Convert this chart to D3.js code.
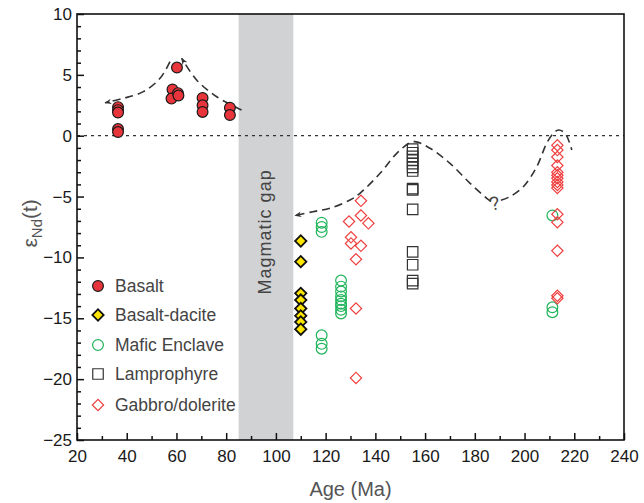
<!DOCTYPE html>
<html>
<head>
<meta charset="utf-8">
<script src="https://cdn.jsdelivr.net/npm/d3@7/dist/d3.min.js"></script>
<style>
  body { margin: 0; background: #fff; }
  svg text { font-family: 'Liberation Sans', Arial, sans-serif; }
</style>
</head>
<body>
<div id="chart"></div>
<script>
// epsilon Nd(t) vs age

var basaltAge = [36.5, 36.5, 36.5, 36.5, 36.5, 60.2, 58.4, 58.0, 60.6, 60.8, 70.5, 70.5, 70.5, 81.5, 81.5]
var basaltEnd = [2.35, 2.1, 1.9, 0.55, 0.3, 5.6, 3.8, 3.05, 3.5, 3.3, 3.1, 2.5, 1.95, 2.3, 1.7]

var dacAge = [110, 110, 110, 110, 110, 110, 110, 110]
var dacEnd = [-8.65, -10.35, -12.95, -13.5, -14.2, -14.8, -15.3, -15.9]

var enclaveAge = [118.4, 118.4, 118.4, 118.4, 118.4, 118.4,
  126.2, 126.2, 126.2, 126.2, 126.2, 126.2, 126.2, 126.2, 126.2,
  211.2, 211.2, 211.2]
var enclaveEnd = [-7.15, -7.5, -7.9, -16.4, -17.1, -17.5,
  -11.9, -12.4, -12.8, -13.2, -13.5, -13.8, -14.0, -14.3, -14.6,
  -6.55, -14.1, -14.5]

var lampAge = [155, 155, 155, 155, 155, 155, 155, 155, 155, 155, 155, 155, 155, 155]
var lampEnd = [-1.1, -1.4, -1.7, -2.0, -2.3, -2.6, -2.9, -4.35, -4.45, -6.05, -9.55, -10.6, -11.9, -12.15]

var gabbroAge = [134.2, 134.2, 137.2, 129.4, 130.2, 130.2, 134.2, 132.2, 132.2, 132.2,
  213.2, 213.2, 213.2, 213.2, 213.2, 213.2, 213.2, 213.2, 213.2, 213.2, 213.2, 213.2, 213.2, 213.2, 213.2]
var gabbroEnd = [-5.35, -6.55, -7.2, -7.05, -8.35, -8.85, -9.05, -10.15, -14.2, -19.9,
  -0.78, -1.18, -1.75, -2.45, -3.0, -3.25, -3.5, -3.8, -4.05, -4.3, -6.45, -7.1, -9.45, -13.15, -13.35]

// dashed trend curves
var trendUpLeftAge = [57.4, 53.4, 46.7, 38.6, 31.3]
var trendUpLeftEnd = [6.08, 4.72, 3.62, 3.07, 2.71]
var trendUpRightAge = [86.2, 76.2, 68.1, 62.1]
var trendUpRightEnd = [2.11, 3.2, 4.58, 6.36]
var trendLowAAge = [186.5, 184.8, 178.1, 170, 162, 155.3, 148.6, 141.9, 133.8, 129.8, 121.8, 114.9, 107.7]
var trendLowAEnd = [-5.4, -5.14, -3.91, -2.27, -1.03, -0.49, -1.45, -3.09, -4.73, -5.28, -5.96, -6.24, -6.56]
var trendLowBAge = [190.5, 194.1, 199.5, 204.9, 208.9, 211.6, 213.6, 216.3, 219]
var trendLowBEnd = [-5.3, -5.01, -4.19, -2.55, -0.62, 0.2, 0.47, 0.2, -1.17]

var gapStart = 85
var gapEnd = 107
var xTicks = [20, 40, 60, 80, 100, 120, 140, 160, 180, 200, 220, 240]
var yTicks = [10, 5, 0, -5, -10, -15, -20, -25]

var width = 644
var height = 503
var margin = { top: 14, right: 20, bottom: 63, left: 77 }
var plotW = width - margin.left - margin.right
var plotH = height - margin.top - margin.bottom

var svg = d3.select('#chart').append('svg')
  .attr('width', width)
  .attr('height', height)

var g = svg.append('g')
  .attr('transform', 'translate(' + margin.left + ',' + margin.top + ')')

var x = d3.scaleLinear().domain([20, 240]).range([0, plotW])
var y = d3.scaleLinear().domain([-25, 10]).range([plotH, 0])

// magmatic gap band
g.append('rect')
  .attr('x', x(gapStart))
  .attr('y', 0)
  .attr('width', x(gapEnd) - x(gapStart))
  .attr('height', plotH)
  .attr('fill', '#d1d2d4')

g.append('text')
  .attr('transform', 'translate(' + (x((gapStart + gapEnd) / 2) + 5) + ',' + y(-7.9) + ')rotate(-90)')
  .attr('text-anchor', 'middle')
  .attr('font-size', 18)
  .attr('letter-spacing', 1)
  .attr('fill', '#444')
  .text('Magmatic gap')

// zero line
g.append('line')
  .attr('x1', 0).attr('x2', plotW)
  .attr('y1', y(0)).attr('y2', y(0))
  .attr('stroke', '#333')
  .attr('stroke-width', 1.3)
  .attr('stroke-dasharray', '3,4')

// axes: major and minor ticks pointing inward
function styleAxis (sel) {
  sel.select('.domain').remove()
  sel.selectAll('.tick line').attr('stroke', '#111').attr('stroke-width', 1.5)
  sel.selectAll('.tick text')
    .attr('fill', '#1a1a1a')
    .attr('font-size', 17)
}

g.append('g')
  .attr('transform', 'translate(0,' + plotH + ')')
  .call(d3.axisBottom(x).tickValues(d3.range(30, 240, 20)).tickSize(-4).tickFormat(''))
  .call(styleAxis)
g.append('g')
  .attr('transform', 'translate(0,' + plotH + ')')
  .call(d3.axisBottom(x).tickValues(xTicks).tickSize(-7).tickPadding(10))
  .call(styleAxis)

g.append('g')
  .call(d3.axisLeft(y).tickValues(d3.range(-24, 10, 1).filter(function (v) { return v % 5 !== 0 })).tickSize(-4).tickFormat(''))
  .call(styleAxis)
g.append('g')
  .call(d3.axisLeft(y).tickValues(yTicks).tickSize(-7).tickPadding(5))
  .call(styleAxis)

// frame
g.append('rect')
  .attr('width', plotW)
  .attr('height', plotH)
  .attr('fill', 'none')
  .attr('stroke', '#111')
  .attr('stroke-width', 1.6)

// dashed trend curves
svg.append('defs').append('marker')
  .attr('id', 'arrow')
  .attr('viewBox', '0 0 10 10')
  .attr('refX', 9).attr('refY', 5)
  .attr('markerWidth', 7).attr('markerHeight', 7)
  .attr('markerUnits', 'userSpaceOnUse')
  .attr('orient', 'auto')
  .append('path')
  .attr('d', 'M0,1L10,5L0,9L3,5Z')
  .attr('fill', '#333')

var line = d3.line()
  .x(function (d) { return x(d[0]) })
  .y(function (d) { return y(d[1]) })
  .curve(d3.curveCatmullRom)

function trend (ages, vals, arrow) {
  g.append('path')
    .datum(d3.zip(ages, vals))
    .attr('d', line)
    .attr('fill', 'none')
    .attr('stroke', '#333')
    .attr('stroke-width', 1.6)
    .attr('stroke-dasharray', '8,5')
    .attr('marker-end', arrow ? 'url(#arrow)' : null)
}
trend(trendUpLeftAge, trendUpLeftEnd, true)
trend(trendUpRightAge, trendUpRightEnd, true)
trend(trendLowAAge, trendLowAEnd, true)
trend(trendLowBAge, trendLowBEnd, false)

g.append('text')
  .attr('transform', 'translate(' + x(188.6) + ',' + (y(-5.5) + 7) + ')rotate(-15)')
  .attr('text-anchor', 'middle')
  .attr('font-size', 19)
  .attr('fill', '#444')
  .text('?')

// symbols
var diamond = d3.symbol().type(d3.symbolSquare).size(64)
var square = d3.symbol().type(d3.symbolSquare).size(110)
var circlePath = d3.symbol().type(d3.symbolCircle).size(Math.PI * 29)

function drawPoints (ages, vals, kind) {
  var pts = d3.zip(ages, vals)
  return g.append('g').selectAll('path').data(pts).join('path')
    .attr('transform', function (d) {
      return 'translate(' + x(d[0]) + ',' + y(d[1]) + ')' + (kind.rotate ? 'rotate(45)' : '')
    })
    .attr('d', kind.path)
    .attr('fill', kind.fill)
    .attr('stroke', kind.stroke)
    .attr('stroke-width', kind.width)
}

var kinds = {
  basalt: { path: circlePath, fill: '#e8353b', stroke: '#1a1a1a', width: 1.2, rotate: false, label: 'Basalt' },
  dacite: { path: diamond, fill: '#ffe600', stroke: '#111', width: 1.8, rotate: true, label: 'Basalt-dacite' },
  enclave: { path: circlePath, fill: 'none', stroke: '#1fb45a', width: 1.2, rotate: false, label: 'Mafic Enclave' },
  lamp: { path: square, fill: 'none', stroke: '#333', width: 1.2, rotate: false, label: 'Lamprophyre' },
  gabbro: { path: diamond, fill: 'none', stroke: '#f04040', width: 1.2, rotate: true, label: 'Gabbro/dolerite' }
}

drawPoints(enclaveAge, enclaveEnd, kinds.enclave)
drawPoints(lampAge, lampEnd, kinds.lamp)
drawPoints(gabbroAge, gabbroEnd, kinds.gabbro)
drawPoints(dacAge, dacEnd, kinds.dacite)
drawPoints(basaltAge, basaltEnd, kinds.basalt)

// legend
var legendKeys = ['basalt', 'dacite', 'enclave', 'lamp', 'gabbro']
var legendY = [272, 301, 331, 360, 391]
var legend = g.append('g')
legendKeys.forEach(function (k, i) {
  var kind = kinds[k]
  legend.append('path')
    .attr('transform', 'translate(21,' + legendY[i] + ')' + (kind.rotate ? 'rotate(45)' : ''))
    .attr('d', kind.path)
    .attr('fill', kind.fill)
    .attr('stroke', kind.stroke)
    .attr('stroke-width', kind.width)
  legend.append('text')
    .attr('x', 38)
    .attr('y', legendY[i] + 6)
    .attr('font-size', 17.5)
    .attr('fill', '#444')
    .text(kind.label)
})

// axis titles
svg.append('text')
  .attr('x', margin.left + plotW / 2)
  .attr('y', 496)
  .attr('text-anchor', 'middle')
  .attr('font-size', 20)
  .attr('fill', '#555')
  .text('Age (Ma)')

var yTitle = svg.append('text')
  .attr('transform', 'translate(37,' + (margin.top + y(-7.2)) + ')rotate(-90)')
  .attr('text-anchor', 'middle')
  .attr('font-size', 21)
  .attr('fill', '#555')
yTitle.append('tspan').text('\u03b5')
yTitle.append('tspan').attr('font-size', 15).attr('dy', 5).text('Nd')
yTitle.append('tspan').attr('dy', -5).text('(t)')
</script>
</body>
</html>
